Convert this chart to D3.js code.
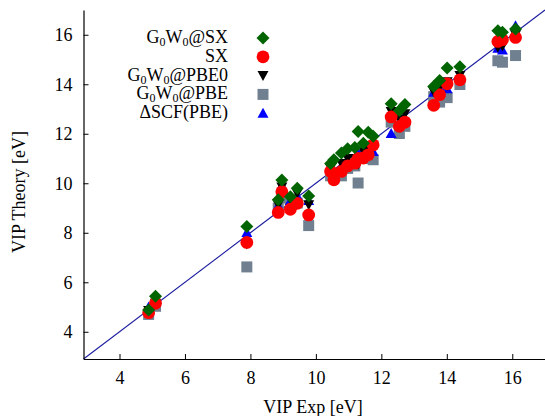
<!DOCTYPE html>
<html>
<head>
<meta charset="utf-8">
<script src="https://cdn.jsdelivr.net/npm/d3@7"></script>
<style>
  html, body { margin: 0; padding: 0; background: #fff; }
  svg { display: block; }
  text { font-family: "Liberation Serif", "DejaVu Serif", serif; fill: #000; }
</style>
</head>
<body>
<svg id="chart" width="545" height="416"></svg>
<script>
// Experimental vertical ionization potentials (eV), one entry per molecule
const expVIP = [4.89, 5.10, 7.89, 8.85, 8.96, 9.22, 9.43, 9.78,
  10.45, 10.55, 10.78, 10.97, 11.19, 11.29, 11.45, 11.60, 11.75,
  12.30, 12.55, 12.72, 13.60, 13.78, 14.01, 14.40, 15.56, 15.70, 16.10];

// Theoretical VIPs (eV) for each method, same molecule order
const g0w0SX = [4.88, 5.44, 8.25, 9.33, 10.13, 9.46, 9.80, 9.49,
  10.80, 10.95, 11.22, 11.39, 11.44, 12.09, 11.62, 12.06, 11.90,
  13.21, 12.94, 13.18, 13.91, 14.15, 14.66, 14.71, 16.16, 16.10, 16.23];
const sx = [4.77, 5.15, 7.61, 8.82, 9.66, 8.95, 9.19, 8.72,
  10.48, 10.14, 10.48, 10.70, 10.81, 11.00, 11.02, 11.15, 11.55,
  12.68, 12.30, 12.47, 13.15, 13.58, 14.02, 14.18, 15.73, 15.80, 15.89];
const g0w0PBE0 = [4.86, 5.15, 7.55, 9.13, 9.85, 9.35, 9.60, 9.13,
  10.60, 10.40, 10.80, 11.00, 11.00, 10.77, 11.30, 11.50, 11.50,
  12.90, 12.60, 12.81, 13.70, 13.90, 14.10, 14.35, 15.50, 15.55, 16.00];
const g0w0PBE = [4.70, 5.03, 6.62, 9.00, 9.40, 9.10, 9.20, 8.29,
  10.30, 10.20, 10.30, 10.60, 10.70, 10.01, 11.00, 11.10, 10.95,
  12.47, 12.01, 12.30, 13.50, 13.28, 13.46, 13.99, 14.95, 14.89, 15.16];
const dscfPBE = [5.00, 5.20, 8.01, 9.10, 9.92, 9.30, 9.50, 9.30,
  10.60, 10.50, 10.70, 10.90, 11.00, 11.20, 11.30, 11.50, 11.28,
  12.01, 12.40, 12.60, 13.68, 13.90, 13.82, 14.30, 15.45, 15.38, 16.36];

const xTicks = [4, 6, 8, 10, 12, 14, 16];
const yTicks = [4, 6, 8, 10, 12, 14, 16];
const axisRange = [2.9, 17];

const svg = d3.select("#chart");
const plot = { left: 83.5, right: 545, top: 10, bottom: 359 };

const x = d3.scaleLinear().domain(axisRange).range([plot.left, plot.right]);
const y = d3.scaleLinear().domain(axisRange).range([plot.bottom, plot.top]);

// Reference line y = x
svg.append("line")
  .attr("x1", x(axisRange[0])).attr("y1", y(axisRange[0]))
  .attr("x2", x(axisRange[1])).attr("y2", y(axisRange[1]))
  .attr("stroke", "#1c1ca0").attr("stroke-width", 1.1);

// Marker shapes
function diamondPath(h) { return `M0,${-h}L${h},0L0,${h}L${-h},0Z`; }
function triUpPath(w, h) { return `M0,${-h * 0.55}L${w / 2},${h * 0.45}L${-w / 2},${h * 0.45}Z`; }
function triDownPath(w, h) { return `M0,${h * 0.55}L${w / 2},${-h * 0.45}L${-w / 2},${-h * 0.45}Z`; }
const squarePath = d3.symbol().type(d3.symbolSquare).size(121)();
const circlePath = d3.symbol().type(d3.symbolCircle).size(Math.PI * 6.4 * 6.4)();

// Drawing order: later series sit on top
const series = [
  { name: "G0W0@PBE", values: g0w0PBE, color: "#708090", path: squarePath },
  { name: "ΔSCF(PBE)", values: dscfPBE, color: "#0000ff", path: triUpPath(11, 10) },
  { name: "G0W0@PBE0", values: g0w0PBE0, color: "#000000", path: triDownPath(11, 10) },
  { name: "SX", values: sx, color: "#ff0000", path: circlePath },
  { name: "G0W0@SX", values: g0w0SX, color: "#006400", path: diamondPath(6.5) }
];

series.forEach(s => {
  svg.append("g").selectAll("path")
    .data(expVIP.map((e, i) => [e, s.values[i]]))
    .join("path")
    .attr("d", s.path)
    .attr("transform", d => `translate(${x(d[0])},${y(d[1])})`)
    .attr("fill", s.color);
});

// Axes with inward ticks
const xAxis = svg.append("g")
  .attr("transform", `translate(0,${plot.bottom})`)
  .call(d3.axisBottom(x).tickValues(xTicks).tickSizeInner(-5).tickSizeOuter(0).tickPadding(12));
const yAxis = svg.append("g")
  .attr("transform", `translate(${plot.left},0)`)
  .call(d3.axisLeft(y).tickValues(yTicks).tickSizeInner(-5).tickSizeOuter(0).tickPadding(11));

[xAxis, yAxis].forEach(ax => {
  ax.selectAll("path.domain").attr("stroke", "#000").attr("stroke-width", 1.2);
  ax.selectAll(".tick line").attr("stroke", "#000").attr("stroke-width", 1);
  ax.selectAll(".tick text")
    .attr("font-family", "Liberation Serif, serif")
    .attr("font-size", 18).attr("fill", "#000");
});

// Axis titles
svg.append("text")
  .attr("x", 313).attr("y", 413)
  .attr("text-anchor", "middle").attr("font-size", 18)
  .text("VIP Exp [eV]");
svg.append("text")
  .attr("transform", "translate(25,192) rotate(-90)")
  .attr("text-anchor", "middle").attr("font-size", 18)
  .text("VIP Theory [eV]");

// Legend
const legendItems = [
  { parts: [["G", 0], ["0", 1], ["W", 0], ["0", 1], ["@SX", 0]], s: series[4] },
  { parts: [["SX", 0]], s: series[3] },
  { parts: [["G", 0], ["0", 1], ["W", 0], ["0", 1], ["@PBE0", 0]], s: series[2] },
  { parts: [["G", 0], ["0", 1], ["W", 0], ["0", 1], ["@PBE", 0]], s: series[0] },
  { parts: [["ΔSCF(PBE)", 0]], s: series[1] }
];
const legend = svg.append("g");
legendItems.forEach((item, i) => {
  const base = 43 + i * 18.8;
  const t = legend.append("text")
    .attr("x", 228).attr("y", base)
    .attr("text-anchor", "end").attr("font-size", 18);
  item.parts.forEach(([str, sub]) => {
    const ts = t.append("tspan").text(str);
    if (sub) ts.attr("font-size", 12).attr("baseline-shift", "-28%");
  });
  legend.append("path")
    .attr("d", item.s.path)
    .attr("transform", `translate(263,${base - 5})`)
    .attr("fill", item.s.color);
});
</script>
</body>
</html>
